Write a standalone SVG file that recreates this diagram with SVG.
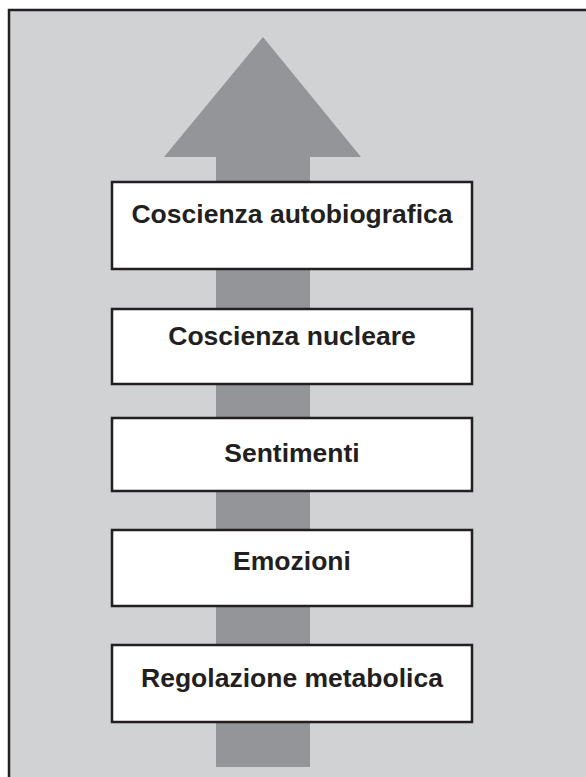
<svg xmlns="http://www.w3.org/2000/svg" width="586" height="777" viewBox="0 0 586 777">
<style>
.box{fill:#ffffff;stroke:#231f20;stroke-width:2.5}
.lbl{font-family:"Liberation Sans",Arial,sans-serif;font-weight:bold;font-size:26.5px;fill:#231f20;text-anchor:middle}
</style>
<rect x="0" y="0" width="586" height="777" fill="#ffffff"/>
<rect x="9" y="10" width="620" height="820" fill="#d1d2d4" stroke="#231f20" stroke-width="2.5"/>
<g id="connectors">
<polygon points="263,37 361,157 310,157 310,767 216,767 216,157 164,157" fill="#939598"/>
</g>
<g id="n1"><rect class="box" x="112" y="182" width="360" height="87"/><text class="lbl" x="292" y="223">Coscienza autobiografica</text></g>
<g id="n2"><rect class="box" x="112" y="309" width="360" height="75"/><text class="lbl" x="292" y="345">Coscienza nucleare</text></g>
<g id="n3"><rect class="box" x="112" y="418" width="360" height="73"/><text class="lbl" x="292" y="462">Sentimenti</text></g>
<g id="n4"><rect class="box" x="112" y="530" width="360" height="76"/><text class="lbl" x="292" y="570">Emozioni</text></g>
<g id="n5"><rect class="box" x="112" y="645" width="360" height="77"/><text class="lbl" x="292" y="687">Regolazione metabolica</text></g>
</svg>
